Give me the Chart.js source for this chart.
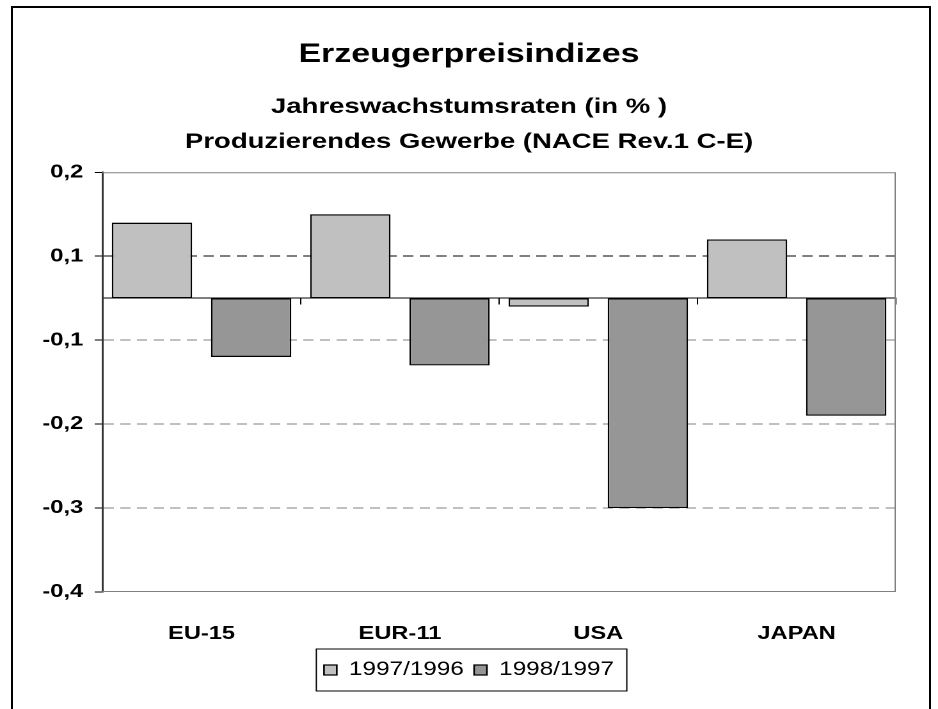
<!DOCTYPE html>
<html>

<head>
  <title>Erzeugerpreisindizes</title>
  <script src="https://cdn.jsdelivr.net/npm/chart.js"></script>
  <style>
    body { margin: 0; background: #fff; overflow: hidden; }
    /* the original picture is stretched sideways, so draw narrow and scale */
    .stretch { position: absolute; left: 0; top: 0; width: 733px; height: 709px; transform: scaleX(1.2797); transform-origin: 0 0; }
    .frame { position: absolute; left: 11px; top: 6px; width: 920px; height: 720px; border: 2px solid #000; box-sizing: border-box; }
  </style>
</head>

<body>
  <div class="frame"></div>
  <div class="stretch">
    <canvas id="ppi-chart"></canvas>
  </div>

  <script>
    // Daten
    const categories = ['EU-15', 'EUR-11', 'USA', 'JAPAN'];
    const seriesNames = ['1997/1996', '1998/1997'];
    const values9796 = [0.09, 0.10, -0.01, 0.07];
    const values9897 = [-0.07, -0.08, -0.25, -0.14];
    const yTicks = [-0.35, -0.25, -0.15, -0.05, 0.05, 0.15];
    const yTickLabels = ['-0,4', '-0,3', '-0,2', '-0,1', '0,1', '0,2'];

    Chart.defaults.font.family = "'Liberation Sans', Arial, sans-serif";
    Chart.defaults.color = '#000';

    // Rahmen um Diagrammfläche und Legende
    const boxes = {
      id: 'boxes',
      beforeDatasetsDraw(chart) {
        const a = chart.chartArea;
        const ctx = chart.ctx;
        ctx.save();
        ctx.strokeStyle = '#808080';
        ctx.lineWidth = 1;
        ctx.beginPath();
        ctx.moveTo(a.left, a.top + 0.5);
        ctx.lineTo(a.right - 0.5, a.top + 0.5);
        ctx.lineTo(a.right - 0.5, a.bottom - 0.5);
        ctx.lineTo(a.left, a.bottom - 0.5);
        ctx.stroke();
        ctx.restore();
      },
      afterDraw(chart) {
        const hb = chart.legend.legendHitBoxes;
        if (!hb.length) return;
        const left = Math.min(...hb.map(h => h.left));
        const right = Math.max(...hb.map(h => h.left + h.width));
        const mid = hb[0].top + hb[0].height / 2;
        const ctx = chart.ctx;
        ctx.save();
        ctx.strokeStyle = '#000';
        ctx.lineWidth = 1;
        ctx.strokeRect(left - 6, mid - 21, right - left + 16, 42);
        ctx.restore();
      }
    };

    const ctx = document.getElementById('ppi-chart').getContext('2d');

    const chart = new Chart(ctx, {
      type: 'bar',
      data: {
        labels: categories,
        datasets: [{
          label: seriesNames[0],
          data: values9796,
          backgroundColor: '#c0c0c0',
          borderColor: '#000',
          borderWidth: 1.3,
          borderSkipped: false
        }, {
          label: seriesNames[1],
          data: values9897,
          backgroundColor: '#969696',
          borderColor: '#000',
          borderWidth: 1.3,
          borderSkipped: false
        }]
      },
      options: {
        responsive: true,
        maintainAspectRatio: false,
        animation: false,
        devicePixelRatio: 2,
        barPercentage: 0.81,
        categoryPercentage: 1.0,
        layout: { padding: { top: 0, left: 0, right: 0, bottom: 19.5 } },
        scales: {
          x: {
            position: { y: 0 },
            offset: true,
            ticks: { display: false },
            grid: { drawOnChartArea: false, drawTicks: true, tickLength: 6, color: '#000', offset: true },
            border: { color: '#000', width: 1 }
          },
          x2: {
            type: 'category',
            position: 'bottom',
            offset: true,
            grid: { display: false },
            border: { display: false },
            ticks: { font: { size: 18.5, weight: 'bold' }, padding: 23, maxRotation: 0 },
            afterFit(s) { s.height = 60.5; }
          },
          y: {
            min: -0.35,
            max: 0.15,
            afterBuildTicks(s) { s.ticks = yTicks.map(v => ({ value: v })); },
            afterFit(s) { s.width = 80; },
            ticks: {
              font: { size: 18.5, weight: 'bold' },
              padding: 9,
              callback: (v, i) => yTickLabels[i]
            },
            grid: {
              color: ['rgba(0,0,0,0)', '#808080', '#808080', '#808080', '#000', 'rgba(0,0,0,0)'],
              tickColor: '#000',
              tickLength: 6
            },
            border: { color: '#333', width: 1.5, dash: [8, 5] }
          },
          yR: {
            type: 'linear',
            position: 'right',
            grid: { display: false },
            border: { display: false },
            ticks: { display: false },
            afterFit(s) { s.width = 33; }
          }
        },
        plugins: {
          title: {
            display: true,
            text: 'Erzeugerpreisindizes',
            font: { size: 26.5, weight: 'bold' },
            padding: { top: 39, bottom: 0 }
          },
          subtitle: {
            display: true,
            text: ['Jahreswachstumsraten (in % )', 'Produzierendes Gewerbe (NACE Rev.1 C-E)'],
            font: { size: 21.5, weight: 'bold', lineHeight: 1.628 },
            padding: { top: 19, bottom: 12.5 }
          },
          legend: {
            position: 'bottom',
            labels: { font: { size: 19 }, boxWidth: 10, boxHeight: 10, padding: 8 }
          },
          tooltip: { enabled: false }
        }
      },
      plugins: [boxes]
    });
  </script>
</body>

</html>
